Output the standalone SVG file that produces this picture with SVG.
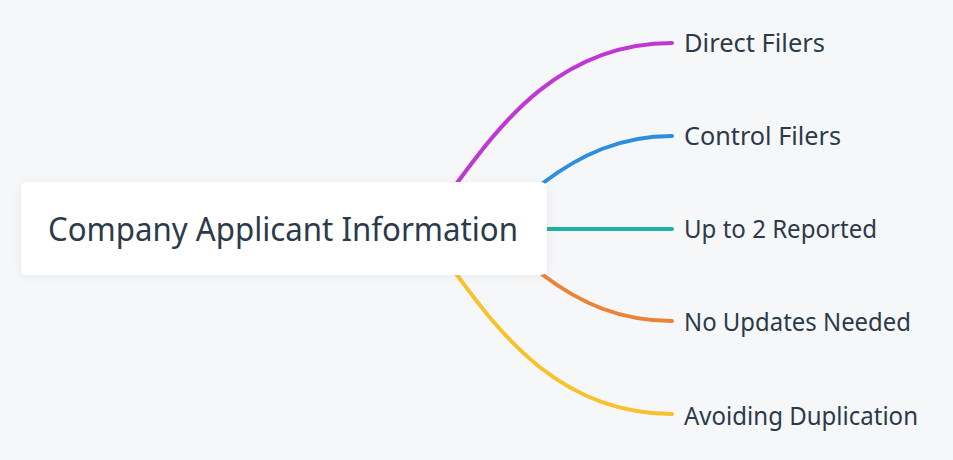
<svg xmlns="http://www.w3.org/2000/svg" width="953" height="460" viewBox="0 0 953 460">
<defs>
<style>
.bg{fill:#f6f7f9}
.edge{fill:none;stroke-width:4;stroke-linecap:round}
.node-box{fill:#ffffff}
.root-text{font-family:"Noto Sans",sans-serif;font-size:32px;fill:#2c3a4a}
.leaf-text{font-family:"Noto Sans",sans-serif;font-size:25px;fill:#2c3a4a}
</style>
<filter id="sh" x="-10%" y="-30%" width="120%" height="160%">
<feDropShadow dx="0" dy="1" stdDeviation="4" flood-color="#000" flood-opacity="0.06"/>
</filter>
</defs>
<rect class="bg" x="0" y="0" width="953" height="460"/>
<g id="connectors">
<path class="edge" stroke="#c038d3" d="M 440 206 L 457 183 C 500 125 560 43 672 43"/>
<path class="edge" stroke="#2e8ede" d="M 520 200 L 543 183 C 580 155 620 136 672 136"/>
<path class="edge" stroke="#1fb0a0" d="M 520 229 L 672 229"/>
<path class="edge" stroke="#ec8236" d="M 520 258 L 543 275 C 580 303 620 321 672 321"/>
<path class="edge" stroke="#f8c22c" d="M 440 252 L 457 275 C 500 333 560 414 672 414"/>
</g>
<g id="root">
<rect class="node-box" x="21" y="182" width="526" height="93" rx="6" filter="url(#sh)"/>
<text class="root-text" x="48" y="241" textLength="470" lengthAdjust="spacingAndGlyphs">Company Applicant Information</text>
</g>
<g id="leaf-direct-filers"><text class="leaf-text" x="684" y="52" textLength="141" lengthAdjust="spacingAndGlyphs">Direct Filers</text></g>
<g id="leaf-control-filers"><text class="leaf-text" x="684" y="145" textLength="157" lengthAdjust="spacingAndGlyphs">Control Filers</text></g>
<g id="leaf-up-to-2"><text class="leaf-text" x="684" y="238" textLength="193" lengthAdjust="spacingAndGlyphs">Up to 2 Reported</text></g>
<g id="leaf-no-updates"><text class="leaf-text" x="684" y="331" textLength="227" lengthAdjust="spacingAndGlyphs">No Updates Needed</text></g>
<g id="leaf-avoiding"><text class="leaf-text" x="684" y="425" textLength="234" lengthAdjust="spacingAndGlyphs">Avoiding Duplication</text></g>
</svg>
